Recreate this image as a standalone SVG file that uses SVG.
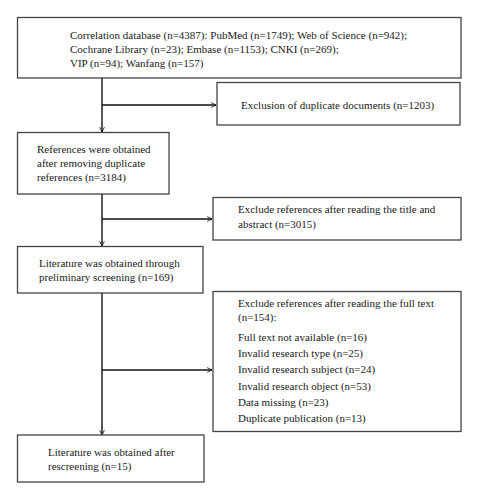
<svg xmlns="http://www.w3.org/2000/svg" width="478" height="500" viewBox="0 0 478 500">
<defs>
<marker id="arr" viewBox="0 0 10 10" refX="9" refY="5" markerWidth="6" markerHeight="6" markerUnits="userSpaceOnUse" orient="auto">
<path d="M1,1 L9,5 L1,9" fill="none" stroke="#111" stroke-width="1.4"/>
</marker>
<style>
.box{fill:#fff;stroke:#444;stroke-width:1.3}
.t{font-family:"Liberation Serif","Times New Roman",serif;font-size:11px;fill:#1a1a1a}
.c{fill:none;stroke:#111;stroke-width:1.4}
</style>
</defs>
<rect width="478" height="500" fill="#fff"/>
<g id="connectors">
<line class="c" x1="102" y1="78" x2="102" y2="132" marker-end="url(#arr)"/>
<line class="c" x1="102" y1="105" x2="216" y2="105" marker-end="url(#arr)"/>
<line class="c" x1="102" y1="194" x2="102" y2="246" marker-end="url(#arr)"/>
<line class="c" x1="102" y1="219" x2="212" y2="219" marker-end="url(#arr)"/>
<line class="c" x1="102" y1="293" x2="102" y2="435" marker-end="url(#arr)"/>
<line class="c" x1="102" y1="370" x2="212" y2="370" marker-end="url(#arr)"/>
</g>
<g id="n1">
<rect class="box" x="17.5" y="17.5" width="443.5" height="60.5"/>
<text class="t" x="70" y="39">Correlation database (n=4387): PubMed (n=1749); Web of Science (n=942);</text>
<text class="t" x="70" y="53">Cochrane Library (n=23); Embase (n=1153); CNKI (n=269);</text>
<text class="t" x="70" y="67">VIP (n=94); Wanfang (n=157)</text>
</g>
<g id="n2">
<rect class="box" x="217" y="82.5" width="243" height="42.5"/>
<text class="t" x="241" y="109">Exclusion of duplicate documents (n=1203)</text>
</g>
<g id="n3">
<rect class="box" x="17.5" y="132.5" width="151.5" height="61.5"/>
<text class="t" x="37" y="153">References were obtained</text>
<text class="t" x="37" y="167">after removing duplicate</text>
<text class="t" x="37" y="181">references (n=3184)</text>
</g>
<g id="n4">
<rect class="box" x="213" y="197.5" width="248" height="42.5"/>
<text class="t" x="238" y="213">Exclude references after reading the title and</text>
<text class="t" x="238" y="228">abstract (n=3015)</text>
</g>
<g id="n5">
<rect class="box" x="17.5" y="246.5" width="185.5" height="46.5"/>
<text class="t" x="39" y="267">Literature was obtained through</text>
<text class="t" x="39" y="281">preliminary screening (n=169)</text>
</g>
<g id="n6">
<rect class="box" x="213" y="291.5" width="248" height="140"/>
<text class="t" x="238" y="307">Exclude references after reading the full text</text>
<text class="t" x="238" y="321">(n=154):</text>
<text class="t" x="238" y="341">Full text not available (n=16)</text>
<text class="t" x="238" y="357">Invalid research type (n=25)</text>
<text class="t" x="238" y="373">Invalid research subject (n=24)</text>
<text class="t" x="238" y="390">Invalid research object (n=53)</text>
<text class="t" x="238" y="406">Data missing (n=23)</text>
<text class="t" x="238" y="422">Duplicate publication (n=13)</text>
</g>
<g id="n7">
<rect class="box" x="17.5" y="435" width="186.5" height="47"/>
<text class="t" x="48" y="456">Literature was obtained after</text>
<text class="t" x="48" y="470">rescreening (n=15)</text>
</g>
</svg>
